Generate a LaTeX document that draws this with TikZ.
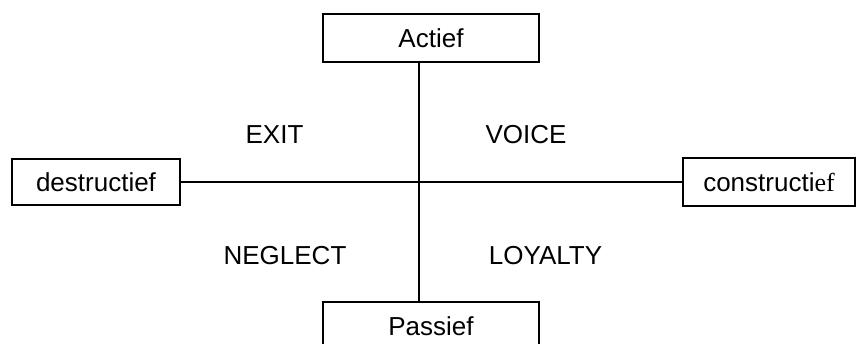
\documentclass[tikz,border=0pt]{standalone}
\usepackage{fontspec}
\setmainfont{Liberation Sans}
\newfontfamily\serifpart{Liberation Serif}
\begin{document}
\begin{tikzpicture}[x=1pt,y=-1pt,
  box/.style={draw,line width=1.5pt,inner sep=0pt,font=\fontsize{26}{30}\selectfont},
  lab/.style={inner sep=0pt,font=\fontsize{26}{30}\selectfont},
  conn/.style={line width=1.5pt}]
\useasboundingbox (0,0) rectangle (862,343);
\clip (0,0) rectangle (862,343);
\node[box,minimum width=216pt,minimum height=48pt] (A) at (431,38) {Actief};
\node[box,minimum width=216pt,minimum height=48pt] (P) at (431,326) {Passief};
\node[box,minimum width=168pt,minimum height=46pt] (D) at (96,182) {destructief};
\node[box,minimum width=172pt,minimum height=48pt] (C) at (769,182) {constructi{\serifpart ef}};
\coordinate (X) at (419,182);
\draw[conn] (X |- A.south) -- (X |- P.north);
\draw[conn] (D.east) -- (C.west);
\node[lab] (exit) at (274.5,135) {EXIT};
\node[lab] (voice) at (526,135) {VOICE};
\node[lab] (neglect) at (285,255.5) {NEGLECT};
\node[lab] (loyalty) at (545.5,255.5) {LOYALTY};
\end{tikzpicture}
\end{document}
